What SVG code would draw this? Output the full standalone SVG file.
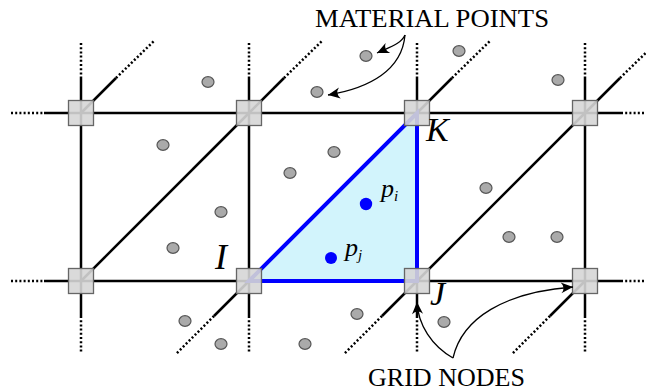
<svg xmlns="http://www.w3.org/2000/svg" width="646" height="391" viewBox="0 0 646 391">
<style>
.ln{stroke:#000;stroke-width:2.5;fill:none}
.dt{stroke:#000;stroke-width:2.5;fill:none;stroke-dasharray:2 2.2}
.blue{stroke:#0000ff;stroke-width:4;fill:none;stroke-linejoin:miter}
.node{fill:#d6d6d6;fill-opacity:0.9;stroke:#666;stroke-width:1.3}
.mp{fill:#aaaaaa;stroke:#555;stroke-width:1.2}
.bp{fill:#0000ff}
.ann{stroke:#000;stroke-width:1.3;fill:none;marker-end:url(#ah)}
.cap{font-family:"Liberation Serif",serif;font-size:26px;fill:#000}
.lab{font-family:"Liberation Serif",serif;font-style:italic;fill:#000}
</style>
<defs>
<marker id="ah" markerUnits="userSpaceOnUse" viewBox="-13 -6 14 12" refX="0" refY="0" markerWidth="14" markerHeight="12" orient="auto">
<path d="M0,0 L-12,-5.5 Q-7,0 -12,5.5 Z" fill="#000"/>
</marker>
</defs>
<polygon points="249,281 417,113 417,281" fill="#d2f4fc"/>
<g id="connectors">
<line class="ln" x1="44" y1="113" x2="621" y2="113"/>
<line class="ln" x1="44" y1="281" x2="621" y2="281"/>
<line class="dt" x1="11" y1="113" x2="44" y2="113"/>
<line class="dt" x1="11" y1="281" x2="44" y2="281"/>
<line class="dt" x1="621" y1="113" x2="646" y2="113"/>
<line class="dt" x1="621" y1="281" x2="646" y2="281"/>
<line class="ln" x1="81" y1="78" x2="81" y2="316"/>
<line class="ln" x1="249" y1="78" x2="249" y2="316"/>
<line class="ln" x1="417" y1="78" x2="417" y2="316"/>
<line class="ln" x1="585" y1="78" x2="585" y2="316"/>
<line class="dt" x1="81" y1="43" x2="81" y2="78"/>
<line class="dt" x1="249" y1="43" x2="249" y2="78"/>
<line class="dt" x1="417" y1="43" x2="417" y2="78"/>
<line class="dt" x1="585" y1="43" x2="585" y2="78"/>
<line class="dt" x1="81" y1="316" x2="81" y2="353"/>
<line class="dt" x1="249" y1="316" x2="249" y2="353"/>
<line class="dt" x1="417" y1="316" x2="417" y2="353"/>
<line class="dt" x1="585" y1="316" x2="585" y2="353"/>
<line class="ln" x1="81" y1="281" x2="249" y2="113"/>
<line class="ln" x1="417" y1="281" x2="585" y2="113"/>
<line class="ln" x1="81" y1="113" x2="116" y2="78"/>
<line class="ln" x1="249" y1="113" x2="284" y2="78"/>
<line class="ln" x1="417" y1="113" x2="452" y2="78"/>
<line class="ln" x1="585" y1="113" x2="620" y2="78"/>
<line class="dt" x1="116" y1="78" x2="155" y2="40"/>
<line class="dt" x1="284" y1="78" x2="323" y2="40"/>
<line class="dt" x1="452" y1="78" x2="491" y2="40"/>
<line class="dt" x1="620" y1="78" x2="659" y2="40"/>
<line class="ln" x1="249" y1="281" x2="214" y2="316"/>
<line class="ln" x1="417" y1="281" x2="382" y2="316"/>
<line class="ln" x1="585" y1="281" x2="550" y2="316"/>
<line class="dt" x1="214" y1="316" x2="176" y2="354"/>
<line class="dt" x1="382" y1="316" x2="344" y2="354"/>
<line class="dt" x1="550" y1="316" x2="512" y2="354"/>
</g>
<g id="element">
<polygon class="blue" points="249,281 417,113 417,281"/>
<circle class="bp" cx="366" cy="204" r="6.2"/>
<circle class="bp" cx="331" cy="258" r="6"/>
</g>
<g id="nodes">
<g id="node-a"><rect class="node" x="68.5" y="100.5" width="25" height="25"/></g>
<g id="node-b"><rect class="node" x="236.5" y="100.5" width="25" height="25"/></g>
<g id="node-K"><rect class="node" x="404.5" y="100.5" width="25" height="25"/></g>
<g id="node-c"><rect class="node" x="572.5" y="100.5" width="25" height="25"/></g>
<g id="node-d"><rect class="node" x="68.5" y="268.5" width="25" height="25"/></g>
<g id="node-I"><rect class="node" x="236.5" y="268.5" width="25" height="25"/></g>
<g id="node-J"><rect class="node" x="404.5" y="268.5" width="25" height="25"/></g>
<g id="node-e"><rect class="node" x="572.5" y="268.5" width="25" height="25"/></g>
</g>
<g id="material-points">
<ellipse class="mp" cx="208" cy="82" rx="6" ry="5.3"/>
<ellipse class="mp" cx="317" cy="92" rx="6" ry="5.3"/>
<ellipse class="mp" cx="366" cy="56" rx="6" ry="5.3"/>
<ellipse class="mp" cx="459" cy="51" rx="6" ry="5.3"/>
<ellipse class="mp" cx="558" cy="80" rx="6" ry="5.3"/>
<ellipse class="mp" cx="163" cy="145" rx="6" ry="5.3"/>
<ellipse class="mp" cx="290" cy="173" rx="6" ry="5.3"/>
<ellipse class="mp" cx="334" cy="152" rx="6" ry="5.3"/>
<ellipse class="mp" cx="221" cy="212" rx="6" ry="5.3"/>
<ellipse class="mp" cx="173" cy="248" rx="6" ry="5.3"/>
<ellipse class="mp" cx="486" cy="188" rx="6" ry="5.3"/>
<ellipse class="mp" cx="509" cy="237" rx="6" ry="5.3"/>
<ellipse class="mp" cx="557" cy="237" rx="6" ry="5.3"/>
<ellipse class="mp" cx="185" cy="321" rx="6" ry="5.3"/>
<ellipse class="mp" cx="221" cy="344" rx="6" ry="5.3"/>
<ellipse class="mp" cx="305" cy="344" rx="6" ry="5.3"/>
<ellipse class="mp" cx="357" cy="314" rx="6" ry="5.3"/>
<ellipse class="mp" cx="444" cy="322" rx="6" ry="5.3"/>
</g>
<g id="labels">
<text class="lab" x="426" y="141" font-size="34">K</text>
<text class="lab" x="215" y="269" font-size="36">I</text>
<text class="lab" x="430" y="305" font-size="34">J</text>
<text class="lab" x="381" y="197" font-size="26">p<tspan font-size="15" dy="4">i</tspan></text>
<text class="lab" x="345" y="256" font-size="26">p<tspan font-size="15" dy="4">j</tspan></text>
<text class="cap" x="315" y="27" textLength="234" lengthAdjust="spacingAndGlyphs">MATERIAL POINTS</text>
<text class="cap" x="368" y="386" textLength="157" lengthAdjust="spacingAndGlyphs">GRID NODES</text>
</g>
<g id="annotations">
<path class="ann" d="M405,35 C401,44 390,47 377,53"/>
<path class="ann" d="M405,35 C402,70 370,88 328,95"/>
<path class="ann" d="M453,358 C432,346 418,325 417,302"/>
<path class="ann" d="M453,358 C462,318 505,292 573,287"/>
</g>
</svg>
